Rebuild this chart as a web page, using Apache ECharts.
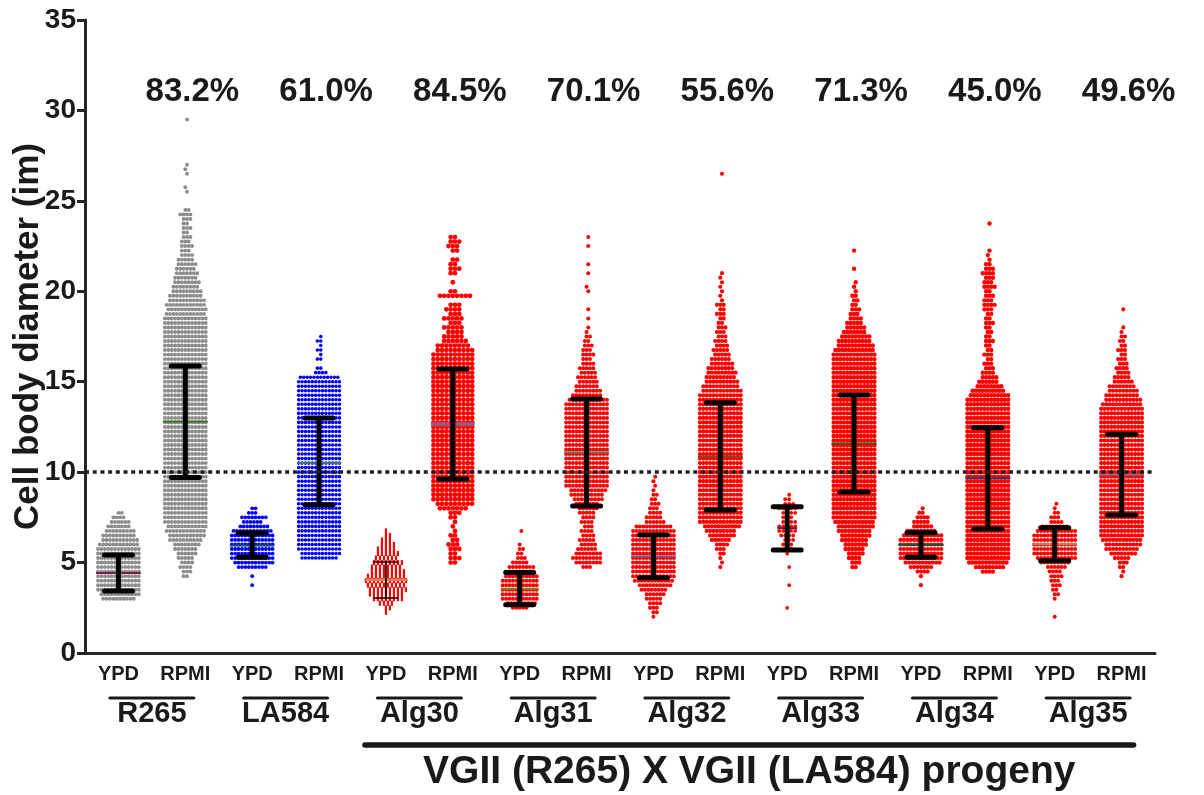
<!DOCTYPE html>
<html>
<head>
<meta charset="utf-8">
<script src="https://cdn.jsdelivr.net/npm/echarts/dist/echarts.min.js"></script>
<style>
html, body { margin: 0; padding: 0; background: #fff; }
#chart { width: 1204px; height: 795px; }
</style>
</head>
<body>
<div id="chart"></div>
<script>
// x categories and group names
const categories = ['YPD', 'RPMI', 'YPD', 'RPMI', 'YPD', 'RPMI', 'YPD', 'RPMI',
  'YPD', 'RPMI', 'YPD', 'RPMI', 'YPD', 'RPMI', 'YPD', 'RPMI'];
const strains = ['R265', 'LA584', 'Alg30', 'Alg31', 'Alg32', 'Alg33', 'Alg34', 'Alg35'];
const percents = ['83.2%', '61.0%', '84.5%', '70.1%', '55.6%', '71.3%', '45.0%', '49.6%'];
const progenyTitle = 'VGII (R265) X VGII (LA584) progeny';
const refLine = 10;
const pctLabelY = 31;

// dots per row, rows every 0.25 um starting at rowStart
const rowStep = 0.25;
const rowStart = [3.0, 4.25, 3.75, 5.25, 2.25, 5.0, 2.5, 4.75, 2.0, 4.75, 2.5, 4.75, 3.75, 4.5, 2.0, 4.25];

const r265Ypd = [10, 12, 13, 13, 13, 13, 13, 13, 13, 13, 13, 13, 12, 11, 10, 9, 7, 6, 4, 2];
const r265Rpmi = [2, 3, 4, 4, 5, 6, 7, 8, 10, 11, 12, 12,
  13, 13, 13, 13, 13, 13, 13, 13, 13, 13,
  13, 13, 13, 13, 13, 13, 13, 13, 13, 13,
  13, 13, 13, 13, 13, 13, 13, 13, 13, 13,
  13, 13, 13, 13, 13, 13, 13, 13, 13, 13,
  13, 13, 13, 13, 13, 13,
  12, 12, 12, 11, 10, 9, 8, 8, 7, 7, 6, 6, 5, 4, 3, 4, 3, 3, 2, 3, 2, 3, 4, 2,
  0, 0, 0, 1, 1, 0, 0, 1, 1, 1, 0, 0, 0, 0, 0, 0, 0, 0, 0, 1];
const la584Ypd = [1, 0, 1, 0, 9, 12, 13, 13, 13, 13, 13, 13, 12, 9, 6, 8, 3, 2];
const la584Rpmi = [11, 12,
  13, 13, 13, 13, 13, 13, 13, 13, 13, 13,
  13, 13, 13, 13, 13, 13, 13, 13, 13, 13,
  13, 13, 13, 13, 13, 13, 13, 13, 13, 13,
  13, 13, 13, 13, 13, 13, 13, 13,
  12, 4, 2, 0, 2, 1, 2, 1, 2, 1];
const alg30Ypd = [1, 2, 4, 8, 9, 10, 10, 11, 10, 9, 8, 8, 6, 6, 5, 4, 3, 2, 1];
const alg30Rpmi = [2, 3, 2, 3, 3, 2, 2, 1, 1, 1, 2, 3, 7, 9,
  10, 10, 10, 10, 10, 10, 10, 10, 10, 10,
  10, 10, 10, 10, 10, 10, 10, 10, 10, 10,
  10, 10, 10, 10, 10, 10, 10, 10, 10, 10,
  10, 10, 10,
  9, 8, 6, 5, 4, 5, 3, 5, 3, 4, 3, 0, 8, 2, 0, 1, 0, 2, 3, 2, 2, 0, 2, 3, 3, 2];
const alg31Ypd = [5, 9, 11, 11, 11, 11, 11, 10, 9, 8, 5, 3, 2, 2, 1, 0, 0, 1];
const alg31Rpmi = [3, 8, 9, 8, 6, 5, 5, 4, 4, 3, 4, 4, 5, 6, 7, 9, 10, 11,
  13, 13, 13, 13, 13, 13, 13, 13, 13, 13,
  13, 13, 13, 13, 13, 13, 13, 13, 13,
  12, 9, 8, 7, 6, 6, 5, 5, 4, 3, 4, 3, 3, 2, 2, 1, 1, 0, 1, 0, 1, 0, 0, 0, 1, 1,
  0, 0, 1, 0, 1, 0, 0, 0, 1, 0, 1];
const alg32Ypd = [1, 2, 3, 4, 5, 6, 8, 10, 12,
  13, 13, 13, 13, 13, 13, 13, 13, 13, 13, 13,
  11, 6, 5, 4, 3, 3, 2, 2, 1, 1, 1, 1];
const alg32Rpmi = [1, 1, 1, 2, 3, 4, 6, 8, 9, 11,
  13, 13, 13, 13, 13, 13, 13, 13, 13, 13,
  13, 13, 13, 13, 13, 13, 13, 13, 13, 13,
  13, 13, 13, 13, 13, 13, 13, 13, 13,
  12, 11, 10, 9, 9, 8, 7, 6, 5, 5, 4, 4, 3, 3, 3, 2, 2, 3, 2, 3, 1, 1, 1, 1, 1, 1, 1,
  0, 0, 0, 0, 0, 0, 0, 0, 0, 0, 0, 0, 0, 0, 0, 0, 0, 0, 0, 0, 0, 1];
const alg33Ypd = [1, 0, 0, 0, 0, 1, 0, 0, 0, 1, 0, 0, 1, 2, 3, 3, 4, 5, 5, 4, 3, 4, 5, 3, 2, 1];
const alg33Rpmi = [2, 3, 4, 5, 6, 7, 8, 9, 10, 11, 12,
  13, 13, 13, 13, 13, 13, 13, 13, 13, 13,
  13, 13, 13, 13, 13, 13, 13, 13, 13, 13,
  13, 13, 13, 13, 13, 13, 13, 13, 13, 13,
  13, 13, 13, 13, 13, 13, 13,
  12, 11, 10, 9, 7, 6, 5, 4, 3, 3, 2, 2, 2, 1, 1, 1, 0, 0, 1, 0, 0, 0, 1];
const alg34Ypd = [1, 0, 1, 4, 7, 11, 13, 13, 13, 13, 13, 12, 9, 6, 5, 4, 2, 1];
const alg34Rpmi = [4, 9, 12,
  13, 13, 13, 13, 13, 13, 13, 13, 13, 13,
  13, 13, 13, 13, 13, 13, 13, 13, 13, 13,
  13, 13, 13, 13, 13, 13, 13, 13, 13, 13,
  13, 13, 13, 13, 13, 13,
  12, 10, 8, 6, 5, 4, 3, 3, 2, 3, 2, 2, 3, 2, 2, 2, 3, 2, 2, 3,
  4, 3, 3, 2, 4, 3, 3, 4, 3, 2, 1, 1, 1, 0, 0, 0, 0, 0, 1];
const alg35Ypd = [1, 0, 0, 0, 1, 2, 2, 3, 3, 4, 4, 6, 9, 12, 13, 13, 13, 13, 13, 12, 8, 4, 3, 2, 1, 1];
const alg35Rpmi = [1, 1, 2, 3, 5, 8, 10, 11, 12,
  13, 13, 13, 13, 13, 13, 13, 13, 13, 13,
  13, 13, 13, 13, 13, 13, 13, 13, 13, 13,
  13, 13, 13, 13, 13, 13, 13, 13, 13,
  12, 11, 10, 9, 8, 6, 5, 4, 4, 3, 3, 2, 3, 2, 2, 2, 1, 1, 0, 0, 0, 1];

const rowCounts = [r265Ypd, r265Rpmi, la584Ypd, la584Rpmi, alg30Ypd, alg30Rpmi, alg31Ypd, alg31Rpmi,
  alg32Ypd, alg32Rpmi, alg33Ypd, alg33Rpmi, alg34Ypd, alg34Rpmi, alg35Ypd, alg35Rpmi];

// mean and mean +/- SD
const means = [4.43, 12.8, 5.95, 10.5, 4.03, 12.65, 3.55, 11.1, 5.35, 10.87, 6.9, 11.58, 5.97, 9.66, 6.03, 9.87];
const sdUpper = [5.42, 15.87, 6.63, 13.0, 5.03, 15.7, 4.45, 14.04, 6.52, 13.84, 8.09, 14.26, 6.65, 12.46, 6.93, 12.1];
const sdLower = [3.43, 9.7, 5.3, 8.2, 3.04, 9.62, 2.67, 8.13, 4.16, 7.9, 5.69, 8.9, 5.29, 6.85, 5.1, 7.63];

// styles
const GRAY = '#8c8c8c', BLUE = '#0000ff', RED = '#ff0000', INK = '#1a1a1a';
const FONT = '"Liberation Sans", Arial, sans-serif';
const dotColor = [GRAY, GRAY, BLUE, BLUE, RED, RED, RED, RED, RED, RED, RED, RED, RED, RED, RED, RED];
const dotR = [1.95, 1.95, 1.9, 1.8, 1.8, 2.4, 2.0, 2.0, 2.0, 2.1, 1.9, 2.2, 2.1, 2.2, 2.0, 2.1];
const dotGap = [3.4, 3.4, 3.4, 3.4, 4.0, 4.3, 3.4, 3.4, 3.4, 3.4, 4.0, 3.4, 3.4, 3.4, 3.4, 3.4];
const meanColor = ['#7a1a45', '#3f6a1a', '#1f5a55', '#3d6f80', '#c98a5a', '#a0557f', '#6f8a2a', '#4a8a6a',
  '#5a6fa5', '#7a4a20', '#5a1f50', '#3a5a12', '#1f4f35', '#2a3a7a', '#b0865a', '#8a6f8a'];

const maxCount = rowCounts.map(counts => Math.max(...counts));
const dotData = [];
rowCounts.forEach((counts, c) => {
  counts.forEach((n, j) => {
    const v = rowStart[c] + j * rowStep;
    for (let k = 0; k < n; k++) dotData.push([c, v, k, n, j]);
  });
});

const halfWidth = rowCounts.map((counts, c) => (maxCount[c] - 1) / 2 * dotGap[c] + dotR[c]);
const barData = means.map((m, c) => [c, m, sdLower[c], sdUpper[c]]);
const pctData = percents.map((p, g) => [2 * g + 1, pctLabelY]);

const chart = echarts.init(document.getElementById('chart'));

const option = {
  animation: false,
  grid: { left: 85, right: 49, top: 20, bottom: 142, outerBoundsMode: 'none', containLabel: false },
  xAxis: {
    type: 'category',
    data: categories,
    boundaryGap: true,
    axisLine: { lineStyle: { color: '#262626', width: 3 } },
    axisTick: { alignWithLabel: true, length: 7, lineStyle: { color: '#262626', width: 3 } },
    axisLabel: { color: INK, fontSize: 20, fontWeight: 'bold', fontFamily: FONT, margin: 11, interval: 0 },
    splitLine: { show: false }
  },
  yAxis: {
    type: 'value',
    min: 0,
    max: 35,
    interval: 5,
    name: 'Cell body diameter (im)',
    nameLocation: 'middle',
    nameGap: 39,
    nameMoveOverlap: false,
    nameTextStyle: { color: INK, fontSize: 35, fontWeight: 'bold', fontFamily: FONT },
    axisLine: { show: true, lineStyle: { color: '#262626', width: 3 } },
    axisTick: { show: true, length: 8, lineStyle: { color: '#262626', width: 3 } },
    axisLabel: { color: INK, fontSize: 28, fontWeight: 'bold', fontFamily: FONT, margin: 9 },
    splitLine: { show: false }
  },
  series: [
    {
      // scatter dots, laid out in rows like a Prism dot plot
      type: 'custom',
      name: 'dots',
      data: dotData,
      encode: { x: 0, y: 1 },
      progressive: 0,
      z: 2,
      renderItem: (params, api) => {
        const c = api.value(0);
        const p = api.coord([c, api.value(1)]);
        const k = api.value(2), n = api.value(3), j = api.value(4);
        // partial rows zig-zag by half a step, as the sparse tails do
        const shift = (n < maxCount[c] && j % 2) ? dotGap[c] / 2 : 0;
        const x = p[0] + (k - (n - 1) / 2) * dotGap[c] + shift;
        if (c === 4) {
          return { type: 'rect', shape: { x: x - 1.1, y: p[1] - 2.5, width: 2.2, height: 5 },
            style: { fill: dotColor[c] } };
        }
        return { type: 'circle', shape: { cx: x, cy: p[1], r: dotR[c] }, style: { fill: dotColor[c] } };
      }
    },
    {
      // mean line + SD error bars
      type: 'custom',
      name: 'mean',
      data: barData,
      encode: { x: 0, y: 1 },
      z: 3,
      renderItem: (params, api) => {
        const c = api.value(0);
        const pm = api.coord([c, api.value(1)]);
        const pl = api.coord([c, api.value(2)]);
        const pu = api.coord([c, api.value(3)]);
        const thin = c === 4;
        const lw = thin ? 1.6 : 5;
        const cap = thin ? 12 : 14;
        const hw = halfWidth[c];
        return {
          type: 'group',
          children: [
            { type: 'line', shape: { x1: pm[0] - hw, y1: pm[1], x2: pm[0] + hw, y2: pm[1] },
              style: { stroke: meanColor[c], lineWidth: c === 5 ? 4 : 2 } },
            { type: 'line', shape: { x1: pm[0], y1: pl[1], x2: pm[0], y2: pu[1] },
              style: { stroke: '#000', lineWidth: lw } },
            { type: 'line', shape: { x1: pm[0] - cap, y1: pu[1], x2: pm[0] + cap, y2: pu[1] },
              style: { stroke: '#000', lineWidth: lw, lineCap: 'round' } },
            { type: 'line', shape: { x1: pm[0] - cap, y1: pl[1], x2: pm[0] + cap, y2: pl[1] },
              style: { stroke: '#000', lineWidth: lw, lineCap: 'round' } }
          ]
        };
      },
      markLine: {
        silent: true,
        symbol: ['none', 'none'],
        label: { show: false },
        z: 10,
        lineStyle: { color: '#1f1f1f', width: 3.5, type: [4, 3.7] },
        data: [{ yAxis: refLine }]
      }
    },
    {
      // percentages above each strain
      type: 'custom',
      name: 'pct',
      data: pctData,
      encode: { x: 0, y: 1 },
      clip: false,
      z: 4,
      renderItem: (params, api) => {
        const p = api.coord([api.value(0), api.value(1)]);
        return {
          type: 'text',
          x: p[0] + 7,
          y: p[1],
          style: {
            text: percents[params.dataIndex],
            font: 'bold 33px ' + FONT,
            fill: INK,
            align: 'center',
            verticalAlign: 'middle'
          }
        };
      }
    }
  ]
};

chart.setOption(option);

// group labels under the axis
const at = (c, v) => chart.convertToPixel({ gridIndex: 0 }, [c, v]);
const base = at(0, 0)[1];
const graphics = [];
strains.forEach((s, g) => {
  const cx = (at(2 * g, 0)[0] + at(2 * g + 1, 0)[0]) / 2;
  graphics.push({
    type: 'line',
    shape: { x1: cx - 42, y1: base + 45, x2: cx + 42, y2: base + 45 },
    style: { stroke: INK, lineWidth: 3, lineCap: 'round' }
  });
  graphics.push({
    type: 'text',
    x: cx,
    y: base + 61,
    style: { text: s, font: 'bold 29px ' + FONT, fill: INK, align: 'center', verticalAlign: 'middle' }
  });
});
const px1 = at(4, 0)[0] - 21;
const px2 = at(15, 0)[0] + 12;
graphics.push({
  type: 'line',
  shape: { x1: px1, y1: base + 92, x2: px2, y2: base + 92 },
  style: { stroke: INK, lineWidth: 5.5, lineCap: 'round' }
});
graphics.push({
  type: 'text',
  x: (px1 + px2) / 2,
  y: base + 119,
  style: { text: progenyTitle, font: 'bold 39px ' + FONT, fill: INK, align: 'center', verticalAlign: 'middle' }
});

chart.setOption({ graphic: graphics });
</script>
</body>
</html>
